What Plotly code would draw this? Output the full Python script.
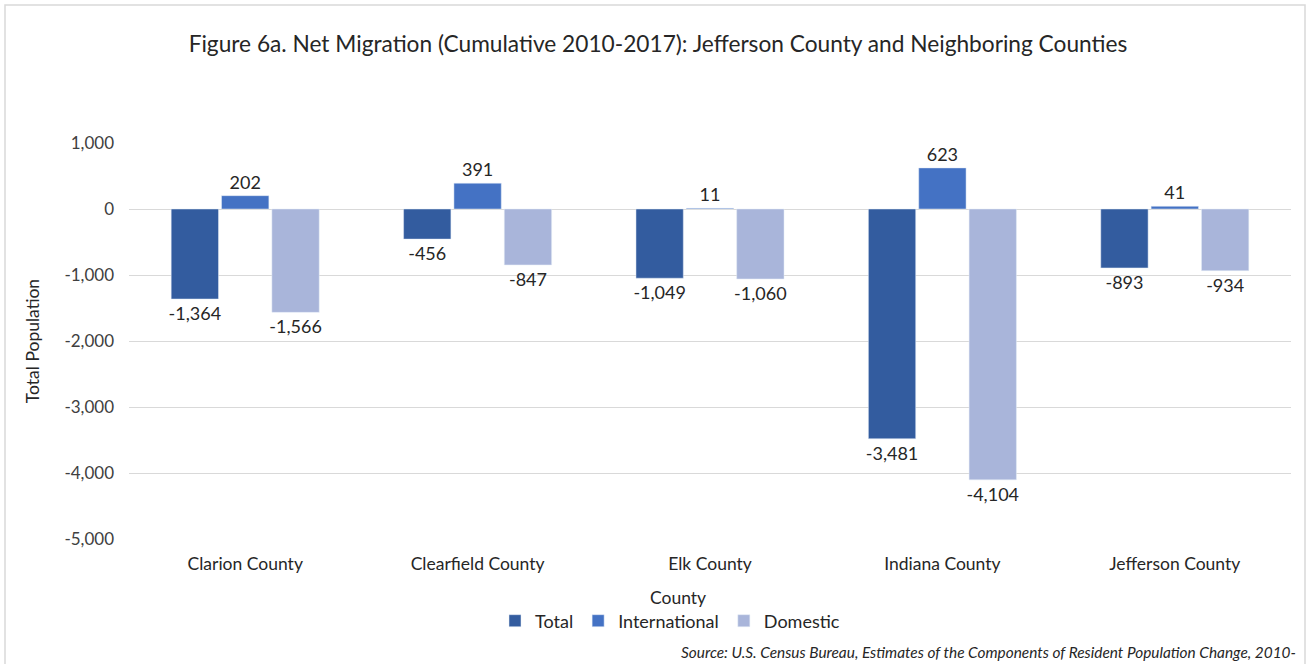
import plotly.graph_objects as go

counties = ["Clarion County", "Clearfield County", "Elk County", "Indiana County", "Jefferson County"]
total = [-1364, -456, -1049, -3481, -893]
international = [202, 391, 11, 623, 41]
domestic = [-1566, -847, -1060, -4104, -934]
y_tickvals = [1000, 0, -1000, -2000, -3000, -4000, -5000]
y_ticktext = ["1,000", "0", "-1,000", "-2,000", "-3,000", "-4,000", "-5,000"]

series = [
    ("Total", total, "#335C9F"),
    ("International", international, "#4472C4"),
    ("Domestic", domestic, "#A9B5DA"),
]

FONT = "Lato"
fig = go.Figure()
for name, vals, col in series:
    fig.add_trace(go.Bar(
        x=counties, y=vals, name=name, marker_color=col,
        text=[f"{v:,}" for v in vals], textposition="outside",
        textfont=dict(size=18, color="#262626", family=FONT),
        constraintext="none", cliponaxis=False,
    ))

W, H = 1307, 664
l, r, t, b = 129, 16, 143, 125
pw, ph = W - l - r, H - t - b

def px(x):
    return (x - l) / pw

def py(y):
    return (H - b - y) / ph

fig.update_layout(
    width=W, height=H,
    margin=dict(l=l, r=r, t=t, b=b),
    paper_bgcolor="white", plot_bgcolor="white",
    font=dict(family=FONT, color="#404040", size=17),
    barmode="group", bargap=0.35, bargroupgap=0.06,
    title=dict(text="Figure 6a. Net Migration (Cumulative 2010-2017): Jefferson County and Neighboring Counties",
               x=658 / W, xanchor="center", y=1 - 44 / H, yanchor="middle",
               font=dict(size=22.7, color="#262626", family=FONT)),
    xaxis=dict(tickfont=dict(size=17.5, color="#262626"), showgrid=False,
               showline=False, ticks="", ticklabelstandoff=12),
    yaxis=dict(title=dict(text="Total Population", font=dict(size=17.5, color="#262626"), standoff=20),
               range=[-5000, 1000], tickvals=y_tickvals, ticktext=y_ticktext,
               tickfont=dict(size=17, color="#404040"),
               gridcolor="#D9D9D9", gridwidth=1, zeroline=True, zerolinecolor="#D9D9D9",
               zerolinewidth=1, ticks="", ticklabelstandoff=14),
    legend=dict(orientation="h", x=px(670), xanchor="center", y=py(621), yanchor="middle",
                font=dict(size=18, color="#262626"), traceorder="normal",
                itemwidth=30, bgcolor="rgba(0,0,0,0)"),
    showlegend=True,
)

fig.add_annotation(
    text="County", xref="paper", yref="paper", x=px(678), y=py(597),
    xanchor="center", yanchor="middle", showarrow=False,
    font=dict(size=17.5, color="#262626", family=FONT),
)

fig.add_annotation(
    text="<i>Source: U.S. Census Bureau, Estimates of the Components of Resident Population Change, 2010-</i>",
    xref="paper", yref="paper", x=px(1298), y=py(652), xanchor="right", yanchor="middle",
    showarrow=False, font=dict(size=15.4, color="#262626", family=FONT),
)

fig.add_shape(type="rect", xref="paper", yref="paper",
              x0=px(5), x1=px(1305), y0=py(700), y1=py(5),
              line=dict(color="#D9D9D9", width=1.5), fillcolor="rgba(0,0,0,0)", layer="below")

fig.write_html("out.html", config={"displayModeBar": False},
               post_script="document.body.style.margin='0';document.body.style.overflow='hidden';")
